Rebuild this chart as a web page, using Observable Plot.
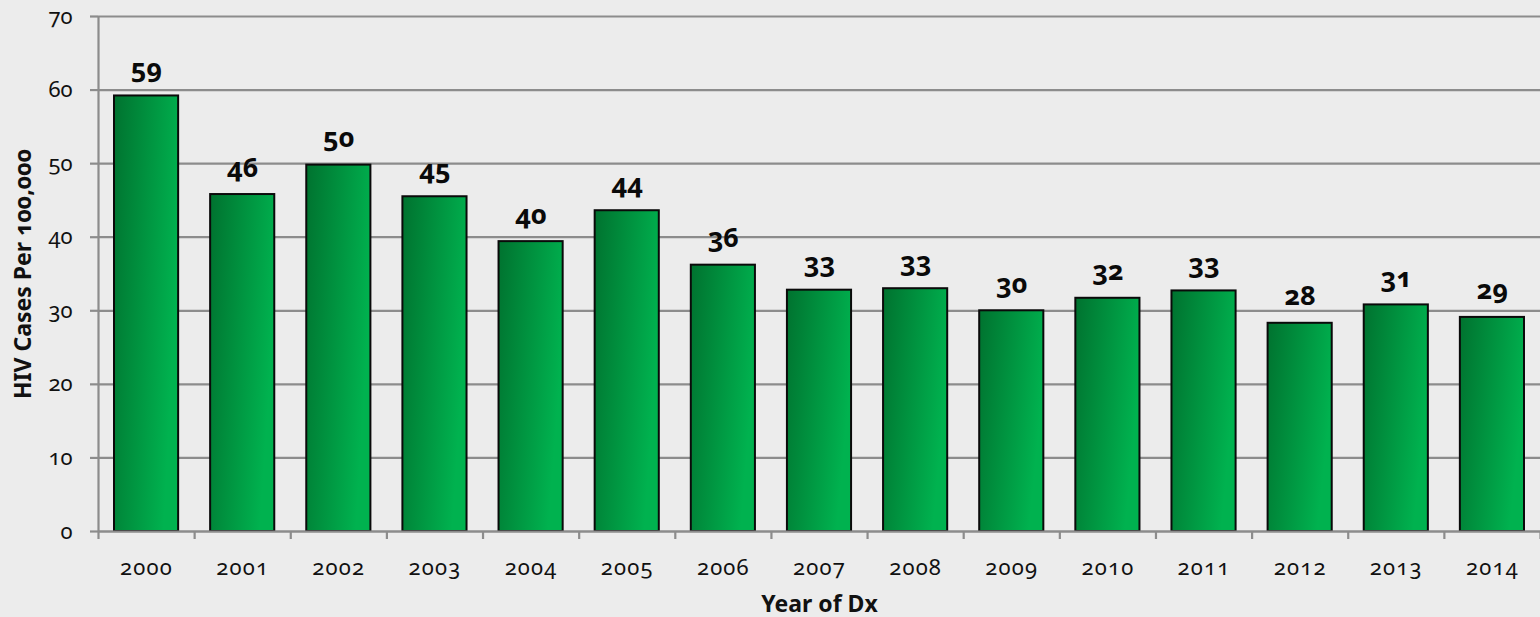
<!DOCTYPE html>
<html>
<head>
<meta charset="utf-8">
<script src="https://cdn.jsdelivr.net/npm/d3@7"></script>
<script src="https://cdn.jsdelivr.net/npm/@observablehq/plot@0.6"></script>
<style>
  html, body { margin: 0; padding: 0; background: #ececec; }
  #chart svg { display: block; font-family: "Noto Sans", "Open Sans", sans-serif; font-variant-numeric: oldstyle-nums; }
</style>
</head>
<body>
<div id="chart"></div>
<script>
// Data
const years = [2000, 2001, 2002, 2003, 2004, 2005, 2006, 2007, 2008, 2009, 2010, 2011, 2012, 2013, 2014];
const rates = [59.2, 45.8, 49.8, 45.5, 39.4, 43.6, 36.2, 32.8, 33.0, 30.0, 31.7, 32.7, 28.3, 30.8, 29.1];
const valueLabels = ["59", "46", "50", "45", "40", "44", "36", "33", "33", "30", "32", "33", "28", "31", "29"];
const yTicks = [0, 10, 20, 30, 40, 50, 60, 70];
const yearBoundaries = [1999.5, 2000.5, 2001.5, 2002.5, 2003.5, 2004.5, 2005.5, 2006.5, 2007.5, 2008.5, 2009.5, 2010.5, 2011.5, 2012.5, 2013.5, 2014.5];
const yTitle = "HIV Cases Per 100,000";
const xTitle = "Year of Dx";

const data = years.map((year, i) => ({year, rate: rates[i], label: valueLabels[i]}));

const gridColor = "#8c8c8c";

const chart = Plot.plot({
  width: 1540,
  height: 617,
  marginTop: 16,
  marginBottom: 86,
  marginLeft: 98,
  marginRight: 0,
  style: {background: "#ececec", color: "#111", fontSize: "22px"},
  x: {type: "linear", domain: [1999.5, 2014.5]},
  y: {domain: [0, 70]},
  marks: [
    Plot.gridY(yTicks, {stroke: gridColor, strokeOpacity: 1, strokeWidth: 2.2}),
    Plot.ruleX([yearBoundaries[0]], {stroke: gridColor, strokeWidth: 2.2}),
    Plot.rectY(data, {
      x1: d => d.year - 0.5,
      x2: d => d.year + 0.5,
      y: "rate",
      insetLeft: 16,
      insetRight: 16,
      fill: "url(#barGrad)",
      stroke: "#0a0a0a",
      strokeWidth: 2
    }),
    Plot.text(data, {
      x: "year",
      y: "rate",
      text: "label",
      lineAnchor: "bottom",
      dy: -18,
      fontSize: 27,
      fontWeight: "bold",
      fill: "#0a0a0a"
    }),
    Plot.ruleY([0], {stroke: gridColor, strokeWidth: 2.2}),
    Plot.axisY(yTicks, {
      tickSize: 8,
      tickPadding: 18,
      stroke: gridColor,
      strokeWidth: 2.2,
      tickFormat: d => String(d),
      fontSize: 22,
      fontVariant: "oldstyle-nums",
      label: yTitle,
      labelAnchor: "center",
      labelArrow: "none",
      labelOffset: 84
    }),
    Plot.axisX(yearBoundaries, {
      tickSize: 8,
      stroke: gridColor,
      strokeWidth: 2.2,
      tickFormat: () => "",
      label: null
    }),
    Plot.axisX(years, {
      tickSize: 0,
      tickPadding: 28,
      tickFormat: d => String(d),
      fontSize: 22,
      fontVariant: "oldstyle-nums",
      label: xTitle,
      labelAnchor: "center",
      labelArrow: "none",
      labelOffset: 80
    })
  ]
});

// gradient for the bars
d3.select(chart).insert("defs", ":first-child").html(`
  <linearGradient id="barGrad" x1="0" y1="0" x2="1" y2="0.35">
    <stop offset="0%" stop-color="#00722f"/>
    <stop offset="100%" stop-color="#00b24f"/>
  </linearGradient>`);

// x tick labels slightly spaced like the reference
d3.select(chart).selectAll("g[aria-label='x-axis tick label'] text").attr("letter-spacing", "1.2px");

// bold axis titles
d3.select(chart).selectAll("g[aria-label='y-axis label'] text, g[aria-label='x-axis label'] text")
  .attr("font-weight", "bold").attr("font-size", 23);

document.getElementById("chart").appendChild(chart);
</script>
</body>
</html>
